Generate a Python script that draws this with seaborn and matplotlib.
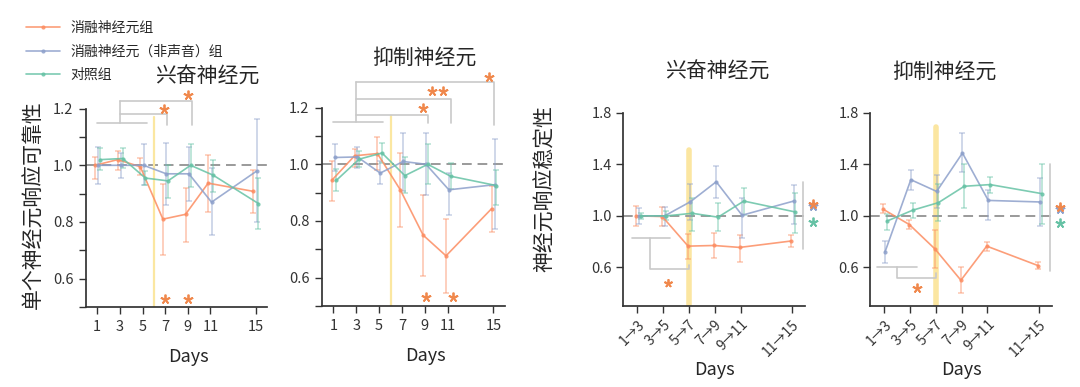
import matplotlib
matplotlib.use("Agg")
import matplotlib.pyplot as plt
import numpy as np
import pandas as pd
import seaborn as sns

GROUPS = ["消融神经元组", "消融神经元（非声音）组", "对照组"]
COLORS = {"消融神经元组": "#fc8d62", "消融神经元（非声音）组": "#8da0cb", "对照组": "#66c2a5"}
STAR = "#f0884c"
GREY = "#c9c9c9"

DAYS = [1, 3, 5, 7, 9, 11, 15]
PAIRS = ["1→3", "3→5", "5→7", "7→9", "9→11", "11→15"]
PAIR_POS = [0, 1, 2, 3, 4, 6]

# excitatory, reliability
EXC_REL_ABL = [1.0, 1.02, 0.995, 0.81, 0.827, 0.937, 0.908]
EXC_REL_ABL_LO = [0.95, 0.985, 0.965, 0.685, 0.73, 0.835, 0.83]
EXC_REL_ABL_HI = [1.03, 1.05, 1.025, 0.935, 0.92, 1.035, 0.985]
EXC_REL_NS = [1.0, 1.0, 1.0, 0.97, 0.97, 0.87, 0.98]
EXC_REL_NS_LO = [0.935, 0.955, 0.93, 0.86, 0.875, 0.755, 0.80]
EXC_REL_NS_HI = [1.065, 1.045, 1.075, 1.08, 1.065, 0.99, 1.165]
EXC_REL_CTL = [1.02, 1.024, 0.955, 0.945, 1.0, 0.965, 0.865]
EXC_REL_CTL_LO = [0.985, 0.99, 0.93, 0.885, 0.925, 0.905, 0.775]
EXC_REL_CTL_HI = [1.06, 1.06, 0.98, 1.0, 1.075, 1.02, 0.955]

# inhibitory, reliability
INH_REL_ABL = [0.943, 1.03, 1.038, 0.91, 0.75, 0.677, 0.844]
INH_REL_ABL_LO = [0.87, 0.99, 0.98, 0.78, 0.606, 0.546, 0.76]
INH_REL_ABL_HI = [1.01, 1.055, 1.095, 1.04, 0.893, 0.806, 0.925]
INH_REL_NS = [1.024, 1.026, 0.969, 1.01, 1.0, 0.91, 0.928]
INH_REL_NS_LO = [0.975, 0.987, 0.93, 0.907, 0.89, 0.82, 0.77]
INH_REL_NS_HI = [1.07, 1.062, 1.01, 1.11, 1.11, 0.97, 1.09]
INH_REL_CTL = [0.943, 1.018, 1.04, 0.96, 1.0, 0.958, 0.925]
INH_REL_CTL_LO = [0.907, 0.99, 1.006, 0.9, 0.93, 0.913, 0.857]
INH_REL_CTL_HI = [0.982, 1.048, 1.076, 1.026, 1.07, 1.006, 0.98]

# excitatory, stability
EXC_STB_ABL = [1.0, 0.995, 0.765, 0.77, 0.755, 0.805]
EXC_STB_ABL_LO = [0.925, 0.925, 0.665, 0.67, 0.645, 0.76]
EXC_STB_ABL_HI = [1.08, 1.07, 0.86, 0.87, 0.855, 0.85]
EXC_STB_NS = [1.0, 1.0, 1.11, 1.265, 1.005, 1.115]
EXC_STB_NS_LO = [0.94, 0.925, 0.97, 1.135, 0.825, 0.94]
EXC_STB_NS_HI = [1.06, 1.07, 1.25, 1.39, 1.14, 1.24]
EXC_STB_CTL = [1.0, 1.0, 1.02, 0.99, 1.115, 1.03]
EXC_STB_CTL_LO = [0.975, 0.965, 0.885, 0.88, 1.01, 0.87]
EXC_STB_CTL_HI = [1.02, 1.04, 1.135, 1.1, 1.22, 1.18]

# inhibitory, stability
INH_STB_ABL = [1.05, 0.933, 0.742, 0.50, 0.765, 0.613]
INH_STB_ABL_LO = [1.02, 0.897, 0.592, 0.40, 0.727, 0.587]
INH_STB_ABL_HI = [1.09, 0.966, 0.894, 0.60, 0.80, 0.64]
INH_STB_NS = [0.72, 1.281, 1.19, 1.488, 1.12, 1.108]
INH_STB_NS_LO = [0.636, 1.2, 1.065, 1.34, 0.966, 0.92]
INH_STB_NS_HI = [0.806, 1.36, 1.32, 1.64, 1.2, 1.297]
INH_STB_CTL = [0.959, 1.044, 1.103, 1.23, 1.243, 1.173]
INH_STB_CTL_LO = [0.889, 0.98, 0.96, 1.06, 1.18, 0.94]
INH_STB_CTL_HI = [1.018, 1.10, 1.25, 1.40, 1.30, 1.405]

sns.set_theme(style="ticks")
plt.rcParams["font.family"] = ["Noto Sans CJK SC", "DejaVu Sans"]
plt.rcParams["axes.edgecolor"] = "#333333"
plt.rcParams["xtick.color"] = "#333333"
plt.rcParams["ytick.color"] = "#333333"


def draw_series(ax, xs, means, lows, highs, offsets):
    frames = []
    for g, off, m, lo, hi in zip(GROUPS, offsets, means, lows, highs):
        x = np.asarray(xs, float) + off
        m = np.asarray(m)
        ax.errorbar(x, m, yerr=[m - np.asarray(lo), np.asarray(hi) - m], fmt="none",
                    ecolor=COLORS[g], alpha=0.45, elinewidth=1.3, capsize=2,
                    capthick=1.2, zorder=2)
        frames.append(pd.DataFrame({"x": x, "y": m, "group": g}))
    df = pd.concat(frames, ignore_index=True)
    sns.lineplot(data=df, x="x", y="y", hue="group", hue_order=GROUPS, palette=COLORS,
                 marker="o", markersize=3, markeredgewidth=0, linewidth=1.2, alpha=0.85,
                 errorbar=None, legend=False, ax=ax, zorder=3)


def star(ax, x, y, color=STAR, size=7):
    ax.plot([x], [y], ls="none", marker=(5, 2, 0), ms=size, mew=1.3, color=color,
            clip_on=False, zorder=5)


def bracket(ax, xs, ys):
    ax.plot(xs, ys, color=GREY, lw=1.2, clip_on=False, zorder=1)


def style_left(ax):
    ax.set_xlim(0, 16)
    ax.set_ylim(0.5, 1.32)
    ax.spines["left"].set_bounds(0.5, 1.2)
    ax.spines["top"].set_visible(False)
    ax.spines["right"].set_visible(False)
    yt = [0.5, 0.6, 0.7, 0.8, 0.9, 1.0, 1.1, 1.2]
    ax.set_yticks(yt)
    ax.set_yticklabels(["", "0.6", "", "0.8", "", "1.0", "", "1.2"], fontsize=10.5)
    ax.set_xticks(DAYS)
    ax.set_xticklabels([str(d) for d in DAYS], fontsize=10.5)
    ax.tick_params(length=5, width=1, pad=4)
    ax.axhline(1.0, color="#9a9a9a", lw=1.4, ls=(0, (5, 3)), zorder=1)
    ax.plot([6, 6], [0.5, 1.17], color="#fbe7a1", lw=1.6, zorder=1)
    ax.set_xlabel("Days", fontsize=13)
    ax.set_ylabel("")


def style_right(ax):
    ax.set_xlim(-0.55, 6.5)
    ax.set_ylim(0.3, 1.9)
    ax.spines["left"].set_bounds(0.3, 1.8)
    ax.spines["top"].set_visible(False)
    ax.spines["right"].set_visible(False)
    ax.set_yticks([0.6, 1.0, 1.4, 1.8])
    ax.set_yticklabels(["0.6", "1.0", "1.4", "1.8"], fontsize=10.5)
    ax.set_xticks(PAIR_POS)
    ax.set_xticklabels(PAIRS, fontsize=10, rotation=45, ha="right", rotation_mode="anchor")
    ax.tick_params(length=5, width=1, pad=3)
    ax.axhline(1.0, color="#9a9a9a", lw=1.4, ls=(0, (5, 3)), zorder=1)
    ax.set_xlabel("Days", fontsize=13)
    ax.set_ylabel("")


fig = plt.figure(figsize=(10.8, 3.87), dpi=100)
ax1 = fig.add_axes([0.0796, 0.2067, 0.1676, 0.6005])
ax2 = fig.add_axes([0.2981, 0.2093, 0.1694, 0.6005])
ax3 = fig.add_axes([0.5769, 0.2093, 0.1685, 0.5323])
ax4 = fig.add_axes([0.8056, 0.2093, 0.1685, 0.5323])

# panel 1
draw_series(ax1, DAYS, [EXC_REL_ABL, EXC_REL_NS, EXC_REL_CTL],
            [EXC_REL_ABL_LO, EXC_REL_NS_LO, EXC_REL_CTL_LO],
            [EXC_REL_ABL_HI, EXC_REL_NS_HI, EXC_REL_CTL_HI], (-0.2, 0.1, 0.25))
style_left(ax1)
bracket(ax1, [1, 5.4], [1.149, 1.149])
bracket(ax1, [3, 3], [1.149, 1.226])
bracket(ax1, [3, 7.15, 7.15], [1.18, 1.18, 1.142])
bracket(ax1, [3, 9.35, 9.35], [1.226, 1.226, 1.142])
star(ax1, 6.9, 1.198)
star(ax1, 9.0, 1.248)
star(ax1, 7.0, 0.53)
star(ax1, 9.0, 0.53)
ax1.xaxis.set_label_coords(0.564, -0.177)

# panel 2
draw_series(ax2, DAYS, [INH_REL_ABL, INH_REL_NS, INH_REL_CTL],
            [INH_REL_ABL_LO, INH_REL_NS_LO, INH_REL_CTL_LO],
            [INH_REL_ABL_HI, INH_REL_NS_HI, INH_REL_CTL_HI], (-0.15, 0.1, 0.25))
style_left(ax2)
bracket(ax2, [0.97, 5.35], [1.149, 1.149])
bracket(ax2, [3, 3], [1.149, 1.29])
bracket(ax2, [3, 9.26, 9.26], [1.173, 1.173, 1.145])
bracket(ax2, [3, 11.26, 11.26], [1.23, 1.23, 1.145])
bracket(ax2, [3, 15.09, 15.09], [1.29, 1.29, 1.14])
star(ax2, 8.85, 1.2)
star(ax2, 9.6, 1.258)
star(ax2, 10.6, 1.258)
star(ax2, 14.6, 1.308)
star(ax2, 9.1, 0.533)
star(ax2, 11.5, 0.533)
ax2.xaxis.set_label_coords(0.568, -0.177)

# panel 3
ax3.plot([2, 2], [0.3, 1.51], color="#fbe08a", lw=4, alpha=0.8, zorder=1)
draw_series(ax3, PAIR_POS, [EXC_STB_ABL, EXC_STB_NS, EXC_STB_CTL],
            [EXC_STB_ABL_LO, EXC_STB_NS_LO, EXC_STB_CTL_LO],
            [EXC_STB_ABL_HI, EXC_STB_NS_HI, EXC_STB_CTL_HI], (-0.03, 0.06, 0.13))
style_right(ax3)
bracket(ax3, [-0.2, 1.28], [0.832, 0.832])
bracket(ax3, [0.5, 0.5, 2.0, 2.0], [0.832, 0.585, 0.585, 0.618])
star(ax3, 1.2, 0.476, size=6)
bracket(ax3, [6.43, 6.43], [0.739, 1.263])
star(ax3, 6.82, 1.075, color=COLORS["消融神经元（非声音）组"])
star(ax3, 6.82, 1.09)
star(ax3, 6.82, 0.953, color=COLORS["对照组"])
ax3.xaxis.set_label_coords(0.5, -0.267)

# panel 4
ax4.plot([2, 2], [0.3, 1.69], color="#fbe08a", lw=4, alpha=0.8, zorder=1)
draw_series(ax4, PAIR_POS, [INH_STB_ABL, INH_STB_NS, INH_STB_CTL],
            [INH_STB_ABL_LO, INH_STB_NS_LO, INH_STB_CTL_LO],
            [INH_STB_ABL_HI, INH_STB_NS_HI, INH_STB_CTL_HI], (-0.03, 0.03, 0.1))
style_right(ax4)
bracket(ax4, [-0.27, 1.27], [0.605, 0.605])
bracket(ax4, [0.5, 0.5, 2.0, 2.0], [0.605, 0.515, 0.515, 0.555])
star(ax4, 1.27, 0.437)
bracket(ax4, [6.43, 6.43], [0.574, 1.405])
star(ax4, 6.82, 1.055, color=COLORS["消融神经元（非声音）组"])
star(ax4, 6.82, 1.07)
star(ax4, 6.82, 0.946, color=COLORS["对照组"])
ax4.xaxis.set_label_coords(0.5, -0.267)


def px(x, y):
    return x / 1080, 1 - y / 387


fig.text(*px(207, 77), "兴奋神经元", fontsize=15, ha="center", va="center")
fig.text(*px(424, 58), "抑制神经元", fontsize=15, ha="center", va="center")
fig.text(*px(717, 72), "兴奋神经元", fontsize=15, ha="center", va="center")
fig.text(*px(944, 72), "抑制神经元", fontsize=15, ha="center", va="center")
fig.text(*px(34, 205), "单个神经元响应可靠性", fontsize=15, rotation=90, ha="center", va="center")
fig.text(*px(545, 188), "神经元响应稳定性", fontsize=15, rotation=90, ha="center", va="center")

handles = [plt.Line2D([], [], color=COLORS[g], lw=1.2, alpha=0.85, marker="o", ms=3,
                      markeredgewidth=0) for g in GROUPS]
fig.legend(handles, GROUPS, loc="upper left", bbox_to_anchor=px(26, 21), frameon=False,
           fontsize=10, handlelength=2.45, labelspacing=0.68, handletextpad=0.72,
           borderaxespad=0, borderpad=0)

fig.savefig("out.png", dpi=100)
